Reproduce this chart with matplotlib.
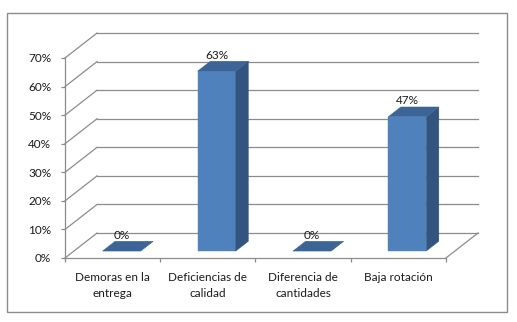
import numpy as np
import matplotlib
import matplotlib.pyplot as plt
from matplotlib.patches import Polygon, Rectangle

matplotlib.use('Agg')

categorias = ['Demoras en la\nentrega', 'Deficiencias de\ncalidad',
              'Diferencia de\ncantidades', 'Baja rotación']
valores = [0, 63, 0, 47]
ticks_y = [0, 10, 20, 30, 40, 50, 60, 70]

# oblique 3D look: full depth shift in data units
DX, DY = 0.337, 8.75
D0, D1 = 0.28, 0.67     # bar depth range
ANCHO = 0.40

C_FRENTE = '#4F81BD'
C_LADO = '#33547E'
C_TOPE = '#3C6496'
C_GRID = '#8C8C8C'

plt.rcParams['font.family'] = ['Lato', 'DejaVu Sans']


def p(x, y, d):
    return (x + d * DX, y + d * DY)


fig = plt.figure(figsize=(5.17, 3.22), dpi=100)
fig.patches.append(Rectangle((7 / 517, 1 - 312 / 322), 500 / 517, 299 / 322,
                             transform=fig.transFigure, fill=False,
                             edgecolor='#8C8C8C', linewidth=1.0))

ax = fig.add_axes([65 / 517, (322 - 258) / 322, 413 / 517, 225 / 322])
n = len(categorias)
ax.set_xlim(0, n + DX)
ax.set_ylim(0, ticks_y[-1] + DY)
ax.patch.set_visible(False)

for s in ['top', 'right']:
    ax.spines[s].set_visible(False)
ax.spines['left'].set_bounds(0, ticks_y[-1])
ax.spines['bottom'].set_bounds(0, n)
for s in ['left', 'bottom']:
    ax.spines[s].set_color(C_GRID)
    ax.spines[s].set_linewidth(0.9)

ax.set_yticks(ticks_y)
ax.set_yticklabels([f'{t}%' for t in ticks_y])
ax.tick_params(axis='y', length=3, width=0.9, color=C_GRID, pad=7,
               labelsize=8.5, labelcolor='#1a1a1a')
ax.set_xticks(np.arange(n + 1))
ax.set_xticklabels([])
ax.tick_params(axis='x', which='major', length=3, width=0.9, color=C_GRID)
ax.set_xticks(np.arange(n) + 0.5, minor=True)
ax.set_xticklabels(categorias, minor=True, linespacing=1.6)
ax.tick_params(axis='x', which='minor', length=0, pad=10,
               labelsize=8.5, labelcolor='#1a1a1a')

# back wall, side wall and floor lines
for t in ticks_y:
    ax.plot([DX, n + DX], [t + DY, t + DY], color=C_GRID, lw=0.9,
            clip_on=False, zorder=1)
    ax.plot([0, DX], [t, t + DY], color=C_GRID, lw=0.9,
            clip_on=False, zorder=1)
ax.plot([n, n + DX], [0, DY], color=C_GRID, lw=0.9, clip_on=False, zorder=1)

# bars
for i, v in enumerate(valores):
    x0 = i + 0.5 - ANCHO / 2
    x1 = i + 0.5 + ANCHO / 2
    frente = [p(x0, 0, D0), p(x1, 0, D0), p(x1, v, D0), p(x0, v, D0)]
    lado = [p(x1, 0, D0), p(x1, 0, D1), p(x1, v, D1), p(x1, v, D0)]
    tope = [p(x0, v, D0), p(x1, v, D0), p(x1, v, D1), p(x0, v, D1)]
    for pts, c in [(frente, C_FRENTE), (lado, C_LADO), (tope, C_TOPE)]:
        ax.add_patch(Polygon(pts, closed=True, facecolor=c, edgecolor=c,
                             linewidth=0.3, clip_on=False, zorder=3))
    xl, yl = p(i + 0.5, v, D0)
    ax.annotate(f'{v}%', (xl, v + D1 * DY), xytext=(0, 0.5),
                textcoords='offset points', ha='center', va='bottom',
                fontsize=8.5, color='#1a1a1a', zorder=4)

fig.savefig('out.png', dpi=100)
plt.close(fig)
